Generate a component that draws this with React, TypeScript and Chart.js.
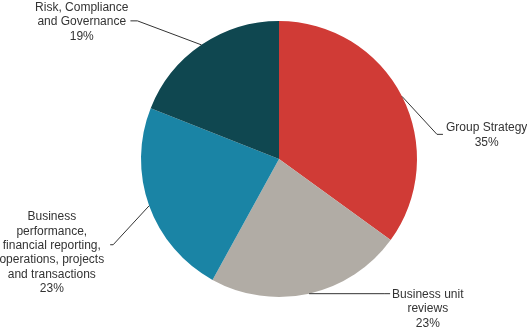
import React, { useEffect, useRef } from "react";
import { Chart, registerables } from "chart.js";

Chart.register(...registerables);

const categories = [
  "Group Strategy",
  "Business unit reviews",
  "Business performance, financial reporting, operations, projects and transactions",
  "Risk, Compliance and Governance",
];
const shares = [35, 23, 23, 19];
const labelLines = [
  ["Group Strategy"],
  ["Business unit", "reviews"],
  ["Business", "performance,", "financial reporting,", "operations, projects", "and transactions"],
  ["Risk, Compliance", "and Governance"],
];
const colors = ["#d03b36", "#b1aca5", "#1a84a5", "#0f4750"];

// leader layout: elbow offset from arc edge, stub length (signed), anchor line index
const leaders = [
  { dx: 35, dy: 38, stub: 6, gap: 3, anchor: 0.5 },
  { dx: 75, dy: 0, stub: 6, gap: 2, anchor: 0 },
  { dx: -36, dy: 39, stub: -3, gap: 6, anchor: 2 },
  { dx: -64, dy: -24, stub: -7, gap: 2, anchor: 1 },
];

const FONT = '12px "Liberation Sans", Arial, sans-serif';
const LINE_H = 14.4;

const leaderPlugin = {
  id: "leaderLabels",
  afterDraw(chart: any) {
    const ctx = chart.ctx;
    const meta = chart.getDatasetMeta(0);
    ctx.save();
    ctx.font = FONT;
    meta.data.forEach((arc: any, i: number) => {
      const { x, y, outerRadius, startAngle, endAngle } = arc.getProps(
        ["x", "y", "outerRadius", "startAngle", "endAngle"],
        true
      );
      const mid = (startAngle + endAngle) / 2;
      const ex = x + Math.cos(mid) * outerRadius;
      const ey = y + Math.sin(mid) * outerRadius;
      const L = leaders[i];
      const bx = ex + L.dx;
      const by = ey + L.dy;
      const sx = bx + L.stub;
      ctx.strokeStyle = "#333333";
      ctx.lineWidth = 1;
      ctx.beginPath();
      ctx.moveTo(ex, ey);
      ctx.lineTo(bx, by);
      ctx.lineTo(sx, by);
      ctx.stroke();

      const lines = [...labelLines[i], `${shares[i]}%`];
      const maxW = Math.max(...lines.map((t) => ctx.measureText(t).width));
      const cx = L.stub >= 0 ? sx + L.gap + maxW / 2 : sx - L.gap - maxW / 2;
      const y0 = by - L.anchor * LINE_H + 1;
      ctx.fillStyle = "#333333";
      ctx.textAlign = "center";
      ctx.textBaseline = "middle";
      lines.forEach((t, k) => {
        ctx.fillText(t, cx, y0 + k * LINE_H);
      });
    });
    ctx.restore();
  },
};

export default function App() {
  const ref = useRef<HTMLCanvasElement>(null);
  useEffect(() => {
    if (!ref.current) return;
    const chart = new Chart(ref.current, {
      type: "pie",
      data: {
        labels: categories,
        datasets: [
          {
            data: shares,
            backgroundColor: colors,
            borderWidth: 0,
          },
        ],
      },
      options: {
        responsive: false,
        animation: false,
        layout: { padding: { left: 141, right: 110, top: 21, bottom: 34 } },
        plugins: {
          legend: { display: false },
          tooltip: { enabled: false },
        },
      },
      plugins: [leaderPlugin],
    });
    return () => chart.destroy();
  }, []);
  return (
    <div style={{ position: "absolute", left: 0, top: 0, width: 527, height: 331, background: "#fff" }}>
      <canvas ref={ref} width={527} height={331} style={{ width: 527, height: 331 }} />
    </div>
  );
}
